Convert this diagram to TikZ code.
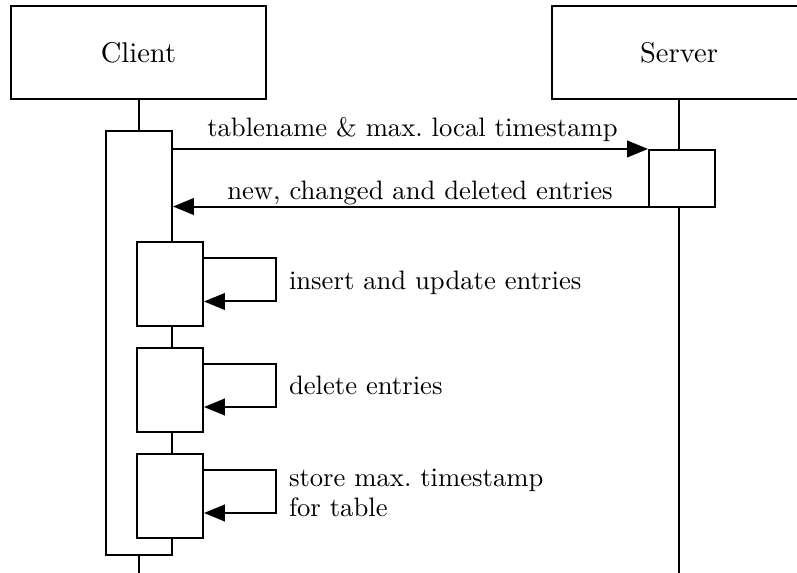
\documentclass[tikz,border=0pt]{standalone}
\usetikzlibrary{arrows.meta,calc}

\begin{document}
\begin{tikzpicture}[x=0.375pt,y=-0.375pt,
  line width=0.75pt,
  lifebox/.style={draw,rectangle,inner sep=0pt,minimum width=95.6pt,minimum height=34.9pt,
    font=\fontsize{10.7}{13}\selectfont},
  actbox/.style={draw,fill=white,rectangle,inner sep=0pt,minimum width=24.75pt},
  msg/.style={-{Triangle[length=7.8pt,width=6.2pt]}},
  lbl/.style={inner sep=0pt,font=\fontsize{10}{11.25}\selectfont}
]
\useasboundingbox (0,0) rectangle (797,573);
\clip (0,0) rectangle (797,573);

% participants
\node[lifebox] (client) at (138.5,52.5) {Client};
\node[lifebox] (server) at (679,52.5) {Server};

% activations
\node[actbox,minimum height=159pt] (cact) at (139,343) {};
\node[actbox,minimum height=21.4pt] (sact) at (682,178.5) {};

% lifelines
\coordinate (cend) at (139,573);
\coordinate (send) at (679,573);
\draw (client.south) -- (client.south |- cact.north);
\draw (cact.south) -- (cend);
\draw (server.south) -- (server.south |- sact.north);
\draw (server.south |- sact.south) -- (send);

% messages between client and server
\draw[msg] (sact.north west -| cact.east) -- (sact.north west);
\node[lbl,anchor=base] (m1) at (412.5,137) {tablename \& max.\ local timestamp};
\draw[msg] ($(sact.south west)+(0,-1.5)$) -- ($(sact.south west -| cact.east)+(0,-1.5)$);
\node[lbl,anchor=base] (m2) at (420,199.5) {new, changed and deleted entries};

% nested activations with self calls
\foreach \i/\yc/\txt in {1/284.5/{insert and update entries},2/390/{delete entries}}{
  \node[actbox,minimum height=31.5pt] (n\i) at (170,\yc) {};
  \coordinate (a\i) at ($(n\i.north east)+(0,17)$);
  \coordinate (b\i) at ($(n\i.north east)+(0,60)$);
  \draw[msg] (a\i) -- ++(72,0) |- (b\i);
  \node[lbl,anchor=base west] (t\i) at ($(a\i)+(84,31)$) {\txt};
}
\node[actbox,minimum height=31.5pt] (n3) at (170,496) {};
\coordinate (a3) at ($(n3.north east)+(0,17)$);
\coordinate (b3) at ($(n3.north east)+(0,60)$);
\draw[msg] (a3) -- ++(72,0) |- (b3);
\node[lbl,anchor=north west,align=left] (t3) at ($(a3)+(84,-2)$) {store max.\ timestamp\\for table};
\end{tikzpicture}
\end{document}
